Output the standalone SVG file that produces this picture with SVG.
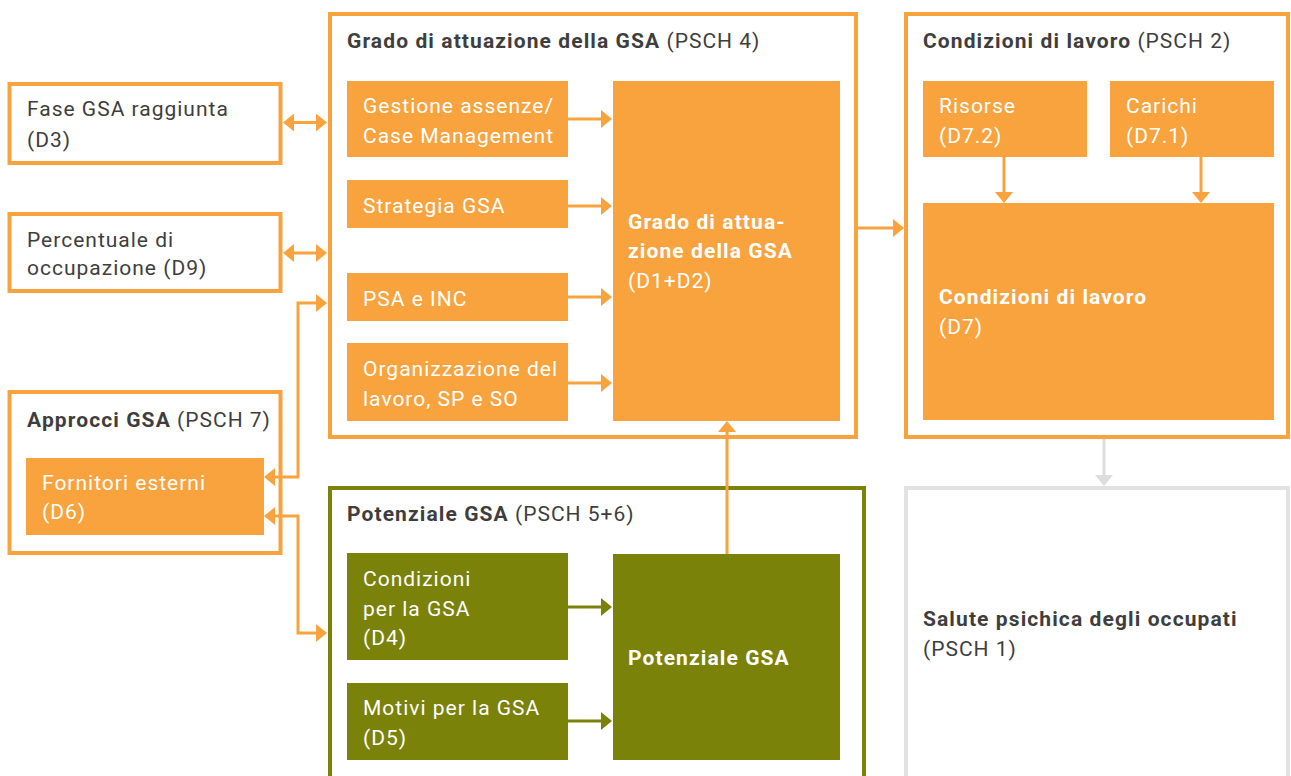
<svg xmlns="http://www.w3.org/2000/svg" width="1291" height="776" viewBox="0 0 1291 776">
  <style>
    .frame { fill: #ffffff; stroke: #F8A33E; stroke-width: 4; }
    .frame-green { fill: #ffffff; stroke: #7A820A; stroke-width: 4; }
    .frame-grey { fill: #ffffff; stroke: #E2E2E3; stroke-width: 4; }
    .fill-o { fill: #F8A33E; }
    .fill-g { fill: #7A820A; }
    text { font-family: Roboto, "Liberation Sans", sans-serif; font-size: 21px; letter-spacing: 1px; }
    .dark { fill: #3E3E3E; }
    .light { fill: #ffffff; }
    .b { font-weight: bold; letter-spacing: 1.1px; }
    .wire { fill: none; stroke: #F8A33E; stroke-width: 3; }
    .wire-g { fill: none; stroke: #7A820A; stroke-width: 3; }
    .wire-grey { fill: none; stroke: #DDDDDF; stroke-width: 3; }
  </style>
  <defs>
    <marker id="ah" viewBox="0 0 11 18" refX="8" refY="9" markerWidth="11" markerHeight="18" orient="auto-start-reverse" markerUnits="userSpaceOnUse">
      <path d="M0,0 L11,9 L0,18 Z" fill="#F8A33E"/>
    </marker>
    <marker id="ah-g" viewBox="0 0 11 18" refX="8" refY="9" markerWidth="11" markerHeight="18" orient="auto-start-reverse" markerUnits="userSpaceOnUse">
      <path d="M0,0 L11,9 L0,18 Z" fill="#7A820A"/>
    </marker>
    <marker id="ah-grey" viewBox="0 0 11 18" refX="8" refY="9" markerWidth="11" markerHeight="18" orient="auto-start-reverse" markerUnits="userSpaceOnUse">
      <path d="M0,0 L11,9 L0,18 Z" fill="#DDDDDF"/>
    </marker>
  </defs>

  <rect width="1291" height="776" fill="#ffffff"/>

  <!-- left column -->
  <g id="fase-gsa">
    <rect class="frame" x="9.5" y="84" width="271" height="79"/>
    <text class="dark" x="27" y="116">Fase GSA raggiunta</text>
    <text class="dark" x="27" y="147">(D3)</text>
  </g>
  <g id="percentuale">
    <rect class="frame" x="9.5" y="214" width="271" height="77"/>
    <text class="dark" x="27" y="247">Percentuale di</text>
    <text class="dark" x="27" y="275">occupazione (D9)</text>
  </g>
  <g id="approcci">
    <rect class="frame" x="9.5" y="392" width="271" height="161"/>
    <text class="dark" x="27" y="427"><tspan class="b">Approcci GSA</tspan> (PSCH 7)</text>
  </g>
  <g id="fornitori">
    <rect class="fill-o" x="26" y="458" width="238" height="77"/>
    <text class="light" x="42" y="490">Fornitori esterni</text>
    <text class="light" x="42" y="519">(D6)</text>
  </g>

  <!-- Grado di attuazione -->
  <g id="grado">
    <rect class="frame" x="330" y="14" width="526" height="423"/>
    <text class="dark" x="347" y="48"><tspan class="b">Grado di attuazione della GSA</tspan> (PSCH 4)</text>
  </g>
  <g id="gestione">
    <rect class="fill-o" x="347" y="81" width="221" height="76"/>
    <text class="light" x="363" y="113">Gestione assenze/</text>
    <text class="light" x="363" y="143">Case Management</text>
  </g>
  <g id="strategia">
    <rect class="fill-o" x="347" y="180" width="221" height="48"/>
    <text class="light" x="363" y="213">Strategia GSA</text>
  </g>
  <g id="psa">
    <rect class="fill-o" x="347" y="273" width="221" height="48"/>
    <text class="light" x="363" y="306">PSA e INC</text>
  </g>
  <g id="organizzazione">
    <rect class="fill-o" x="347" y="343" width="221" height="78"/>
    <text class="light" x="363" y="376">Organizzazione del</text>
    <text class="light" x="363" y="406">lavoro, SP e SO</text>
  </g>
  <g id="grado-core">
    <rect class="fill-o" x="613" y="81" width="227" height="340"/>
    <text class="light b" x="628" y="229">Grado di attua-</text>
    <text class="light b" x="628" y="258">zione della GSA</text>
    <text class="light" x="628" y="288">(D1+D2)</text>
  </g>

  <!-- Condizioni di lavoro -->
  <g id="condizioni">
    <rect class="frame" x="906" y="14" width="382" height="423"/>
    <text class="dark" x="923" y="48"><tspan class="b">Condizioni di lavoro</tspan> (PSCH 2)</text>
  </g>
  <g id="risorse">
    <rect class="fill-o" x="923" y="81" width="164" height="76"/>
    <text class="light" x="939" y="113">Risorse</text>
    <text class="light" x="939" y="143">(D7.2)</text>
  </g>
  <g id="carichi">
    <rect class="fill-o" x="1110" y="81" width="164" height="76"/>
    <text class="light" x="1126" y="113">Carichi</text>
    <text class="light" x="1126" y="143">(D7.1)</text>
  </g>
  <g id="condizioni-core">
    <rect class="fill-o" x="923" y="203" width="351" height="217"/>
    <text class="light b" x="939" y="304">Condizioni di lavoro</text>
    <text class="light" x="939" y="334">(D7)</text>
  </g>

  <!-- Potenziale GSA -->
  <g id="potenziale">
    <rect class="frame-green" x="330" y="488" width="534" height="300"/>
    <text class="dark" x="347" y="521"><tspan class="b">Potenziale GSA</tspan> (PSCH 5+6)</text>
  </g>
  <g id="condizioni-gsa">
    <rect class="fill-g" x="347" y="553" width="221" height="107"/>
    <text class="light" x="363" y="586">Condizioni</text>
    <text class="light" x="363" y="616">per la GSA</text>
    <text class="light" x="363" y="645">(D4)</text>
  </g>
  <g id="motivi">
    <rect class="fill-g" x="347" y="683" width="221" height="77"/>
    <text class="light" x="363" y="715">Motivi per la GSA</text>
    <text class="light" x="363" y="745">(D5)</text>
  </g>
  <g id="potenziale-core">
    <rect class="fill-g" x="613" y="554" width="227" height="206"/>
    <text class="light b" x="628" y="665">Potenziale GSA</text>
  </g>

  <!-- Salute psichica -->
  <g id="salute">
    <rect class="frame-grey" x="906" y="488" width="382" height="300"/>
    <text class="dark b" x="923" y="626">Salute psichica degli occupati</text>
    <text class="dark" x="923" y="656">(PSCH 1)</text>
  </g>

  <!-- connectors -->
  <g id="connectors">
    <path class="wire" d="M286,122.5 H324" marker-start="url(#ah)" marker-end="url(#ah)"/>
    <path class="wire" d="M286,253 H324" marker-start="url(#ah)" marker-end="url(#ah)"/>
    <path class="wire" d="M324,303 H298 V477 H267" marker-start="url(#ah)" marker-end="url(#ah)"/>
    <path class="wire" d="M267,516 H298 V633 H324" marker-start="url(#ah)" marker-end="url(#ah)"/>

    <path class="wire" d="M568,119 H609" marker-end="url(#ah)"/>
    <path class="wire" d="M568,206 H609" marker-end="url(#ah)"/>
    <path class="wire" d="M568,297 H609" marker-end="url(#ah)"/>
    <path class="wire" d="M568,383 H609" marker-end="url(#ah)"/>

    <path class="wire" d="M858,228 H901" marker-end="url(#ah)"/>
    <path class="wire" d="M1004,157 V200" marker-end="url(#ah)"/>
    <path class="wire" d="M1201,157 V200" marker-end="url(#ah)"/>

    <path class="wire" d="M727,554 V424" marker-end="url(#ah)"/>

    <path class="wire-g" d="M568,607 H609" marker-end="url(#ah-g)"/>
    <path class="wire-g" d="M568,721 H609" marker-end="url(#ah-g)"/>

    <path class="wire-grey" d="M1104,439 V483" marker-end="url(#ah-grey)"/>
  </g>
</svg>
